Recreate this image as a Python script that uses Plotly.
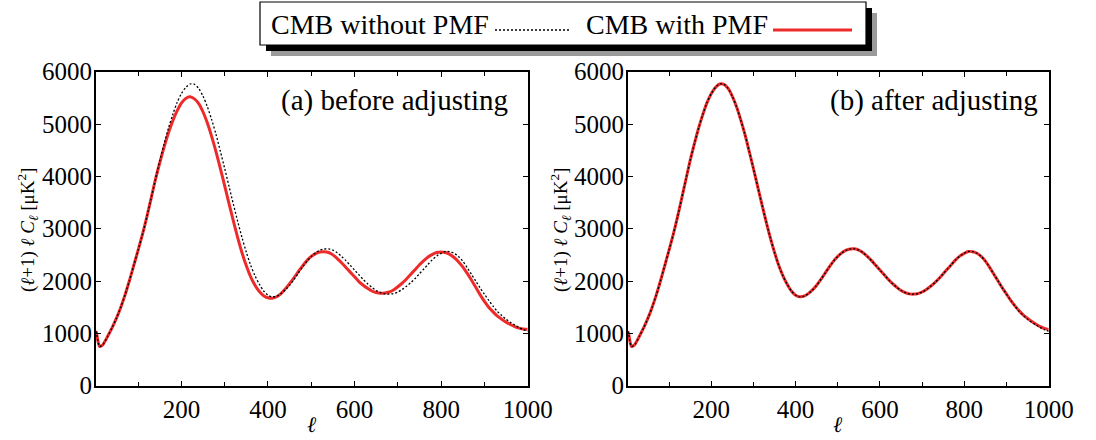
import plotly.graph_objects as go

# ---------------- data ----------------
ell = [2, 4, 7, 11, 15, 20, 30, 40, 50, 60, 70, 80, 90, 100, 110, 120, 130, 140,
       150, 160, 170, 180, 190, 200, 210, 220, 230, 240, 250, 260, 270, 280, 290,
       300, 310, 320, 330, 340, 350, 360, 370, 380, 390, 400, 410, 420, 430, 440,
       450, 460, 470, 480, 490, 500, 510, 520, 530, 540, 550, 560, 570, 580, 590,
       600, 610, 620, 630, 640, 650, 660, 670, 680, 690, 700, 710, 720, 730, 740,
       750, 760, 770, 780, 790, 800, 810, 820, 830, 840, 850, 860, 870, 880, 890,
       900, 910, 920, 930, 940, 950, 960, 970, 980, 990, 1000]

# CMB without PMF (black dotted, both panels)
cmb_without = [1040, 1000, 860, 750, 760, 800, 950, 1110, 1290, 1500, 1740, 2010, 2300, 2590,
               2890, 3220, 3580, 3940, 4300, 4620, 4920, 5180, 5410, 5580, 5700, 5765, 5760,
               5680, 5530, 5330, 5080, 4800, 4480, 4150, 3810, 3470, 3140, 2830, 2550, 2300,
               2100, 1940, 1810, 1730, 1700, 1710, 1760, 1830, 1920, 2030, 2150, 2270, 2380,
               2470, 2540, 2590, 2612, 2615, 2590, 2540, 2470, 2390, 2300, 2210, 2120, 2030,
               1950, 1880, 1820, 1780, 1755, 1750, 1760, 1790, 1840, 1900, 1970, 2050, 2140,
               2230, 2320, 2410, 2480, 2530, 2565, 2560, 2530, 2470, 2380, 2260, 2130, 2000,
               1870, 1750, 1630, 1520, 1420, 1340, 1270, 1210, 1160, 1110, 1070, 1040]

# CMB with PMF, before adjusting (red, panel a)
cmb_with_before = [1040, 1000, 860, 750, 760, 800, 950, 1110, 1290, 1500, 1740, 2010, 2300, 2590,
                   2890, 3220, 3580, 3940, 4260, 4560, 4830, 5060, 5250, 5400, 5490, 5520, 5480,
                   5390, 5230, 5020, 4760, 4470, 4150, 3820, 3480, 3150, 2830, 2540, 2290, 2080,
                   1920, 1800, 1720, 1680, 1672, 1700, 1760, 1850, 1950, 2060, 2180, 2290, 2390,
                   2470, 2525, 2555, 2560, 2545, 2500, 2430, 2350, 2260, 2170, 2080, 1990, 1920,
                   1860, 1810, 1780, 1765, 1770, 1790, 1830, 1890, 1960, 2040, 2130, 2220, 2310,
                   2390, 2460, 2510, 2545, 2555, 2545, 2510, 2450, 2370, 2270, 2150, 2020, 1880,
                   1740, 1610, 1500, 1410, 1330, 1270, 1215, 1170, 1130, 1100, 1085, 1078]

# CMB with PMF, after adjusting (red, panel b)
cmb_with_after = [1040, 1000, 860, 750, 760, 800, 950, 1110, 1290, 1500, 1740, 2010, 2300, 2590,
                  2890, 3220, 3580, 3940, 4300, 4620, 4920, 5180, 5410, 5580, 5700, 5765, 5760,
                  5680, 5530, 5330, 5080, 4800, 4480, 4150, 3810, 3470, 3140, 2830, 2550, 2300,
                  2100, 1940, 1810, 1730, 1700, 1710, 1760, 1830, 1920, 2030, 2150, 2270, 2380,
                  2470, 2540, 2590, 2612, 2615, 2590, 2540, 2470, 2390, 2300, 2210, 2120, 2030,
                  1950, 1880, 1820, 1780, 1755, 1750, 1760, 1790, 1840, 1900, 1970, 2050, 2140,
                  2230, 2320, 2410, 2480, 2530, 2565, 2560, 2530, 2470, 2380, 2260, 2130, 2000,
                  1870, 1750, 1630, 1525, 1430, 1350, 1285, 1225, 1175, 1130, 1095, 1075]

x_tickvals = [200, 400, 600, 800, 1000]
y_tickvals = [0, 1000, 2000, 3000, 4000, 5000, 6000]
panel_titles = ["(a) before adjusting", "(b) after adjusting"]
legend_labels = ["CMB without PMF", "CMB with PMF"]

# ---------------- styling ----------------
W, H = 1096, 440
SERIF = "Liberation Serif"
RED = "#ee2b2b"

def px_x(p):
    return p / W

def px_y(p):
    return 1 - p / H

fig = go.Figure()

panels = [("x", "y", cmb_with_before), ("x2", "y2", cmb_with_after)]
for xa, ya, red in panels:
    fig.add_trace(go.Scatter(x=ell, y=red, mode="lines", xaxis=xa, yaxis=ya,
                             line=dict(color=RED, width=3, shape="spline", smoothing=0.8),
                             showlegend=False, name=legend_labels[1]))
    fig.add_trace(go.Scatter(x=ell, y=cmb_without, mode="lines", xaxis=xa, yaxis=ya,
                             line=dict(color="black", width=1.3, dash="2px,2px",
                                       shape="spline", smoothing=0.8),
                             showlegend=False, name=legend_labels[0]))

y_dom = [px_y(385.7), px_y(71.7)]
x_doms = [[px_x(95.7), px_x(527.7)], [px_x(627.7), px_x(1048.7)]]

common_x = dict(range=[2, 1000], tickvals=x_tickvals, ticks="inside", ticklen=5,
                tickwidth=1, tickcolor="black", showline=True, linecolor="black",
                linewidth=1.6, mirror="allticks", showgrid=False, zeroline=False,
                automargin=False,
                tickfont=dict(family=SERIF, size=25, color="black"),
                minor=dict(dtick=100, tick0=0, ticks="inside", ticklen=4,
                           tickcolor="black", showgrid=False))
common_y = dict(range=[0, 6000], tickvals=y_tickvals, ticks="inside", ticklen=5,
                tickwidth=1, tickcolor="black", showline=True, linecolor="black",
                linewidth=1.6, mirror="allticks", showgrid=False, zeroline=False,
                automargin=False, ticklabelstandoff=-3,
                tickfont=dict(family=SERIF, size=25, color="black"))

fig.update_layout(
    template="none",
    width=W, height=H,
    margin=dict(l=0, r=0, t=0, b=0, pad=0),
    paper_bgcolor="white", plot_bgcolor="white",
    showlegend=False,
    xaxis=dict(domain=x_doms[0], anchor="y", **common_x),
    yaxis=dict(domain=y_dom, anchor="x", **common_y),
    xaxis2=dict(domain=x_doms[1], anchor="y2", **common_x),
    yaxis2=dict(domain=y_dom, anchor="x2", **common_y),
)

annotations = []
# panel titles
for title, xr in zip(panel_titles, [510, 1040]):
    annotations.append(dict(text=title, x=px_x(xr), y=px_y(100), xref="paper", yref="paper",
                            xanchor="right", yanchor="middle", showarrow=False,
                            font=dict(family=SERIF, size=29, color="black")))
# axis titles
ylab = "(<i>ℓ</i>+1) <i>ℓ</i> <i>C</i><sub><i>ℓ</i></sub> [μK<sup>2</sup>]"
for xc in [27, 560]:
    annotations.append(dict(text=ylab, x=px_x(xc), y=px_y(230), xref="paper", yref="paper",
                            xanchor="center", yanchor="middle", textangle=-90, showarrow=False,
                            font=dict(family=SERIF, size=19, color="black")))
for xc in [311.7, 838.2]:
    annotations.append(dict(text="<i>ℓ</i>", x=px_x(xc), y=px_y(424), xref="paper", yref="paper",
                            xanchor="center", yanchor="middle", showarrow=False,
                            font=dict(family=SERIF, size=22, color="black")))

# legend box with drop shadow
shapes = []
bx0, by0, bx1, by1 = 260, 2, 866, 45
shapes.append(dict(type="rect", xref="paper", yref="paper",
                   x0=px_x(bx0 + 11), x1=px_x(bx1 + 11), y0=px_y(by1 + 11), y1=px_y(by0 + 11),
                   fillcolor="#9a9a9a", line=dict(width=0)))
shapes.append(dict(type="rect", xref="paper", yref="paper",
                   x0=px_x(bx0 + 6), x1=px_x(bx1 + 6), y0=px_y(by1 + 6), y1=px_y(by0 + 6),
                   fillcolor="black", line=dict(width=0)))
shapes.append(dict(type="rect", xref="paper", yref="paper",
                   x0=px_x(bx0), x1=px_x(bx1), y0=px_y(by1), y1=px_y(by0),
                   fillcolor="white", line=dict(color="black", width=1.2)))
# legend sample lines
shapes.append(dict(type="line", xref="paper", yref="paper",
                   x0=px_x(495), x1=px_x(570), y0=px_y(30), y1=px_y(30),
                   line=dict(color="black", width=1.3, dash="2px,2px")))
shapes.append(dict(type="line", xref="paper", yref="paper",
                   x0=px_x(773), x1=px_x(852), y0=px_y(30), y1=px_y(30),
                   line=dict(color=RED, width=3)))
annotations.append(dict(text=legend_labels[0], x=px_x(380), y=px_y(24), xref="paper", yref="paper",
                        xanchor="center", yanchor="middle", showarrow=False,
                        font=dict(family=SERIF, size=28, color="black")))
annotations.append(dict(text=legend_labels[1], x=px_x(677), y=px_y(24), xref="paper", yref="paper",
                        xanchor="center", yanchor="middle", showarrow=False,
                        font=dict(family=SERIF, size=28, color="black")))

fig.update_layout(annotations=annotations, shapes=shapes)

fig.write_html("out.html", config={"displayModeBar": False},
               post_script="document.body.style.margin='0';")
